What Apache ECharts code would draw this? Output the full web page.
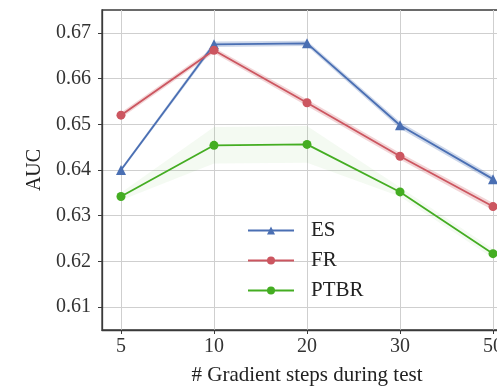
<!DOCTYPE html>
<html>
<head>
<meta charset="utf-8">
<script src="https://cdn.jsdelivr.net/npm/echarts@6/dist/echarts.min.js"></script>
<style>
  html, body { margin: 0; padding: 0; background: #fff; }
  #chart { width: 497px; height: 387px; }
</style>
</head>
<body>
<div id="chart"></div>
<script>
// Number of gradient steps at test time (evenly spaced positions on the x axis)
const steps = ['5', '10', '20', '30', '50'];
const yTicks = [0.61, 0.62, 0.63, 0.64, 0.65, 0.66, 0.67];

// Mean AUC per method
const esAuc   = [0.6400, 0.6675, 0.6677, 0.6498, 0.6380];
const frAuc   = [0.6520, 0.6662, 0.6547, 0.6430, 0.6320];
const ptbrAuc = [0.6342, 0.6454, 0.6456, 0.6352, 0.6217];

// Half-width of the shaded spread around each mean
const esSpread   = [0.0004, 0.0006, 0.0006, 0.0007, 0.0007];
const frSpread   = [0.0006, 0.0006, 0.0007, 0.0007, 0.0008];
const ptbrSpread = [0.0008, 0.0040, 0.0040, 0.0010, 0.0010];

const FONT = 'Liberation Serif';
const methods = [
  { name: 'ES',   mean: esAuc,   spread: esSpread,   color: '#4a6fb3', band: 'rgba(74,111,179,0.28)', symbol: 'triangle', size: 10 },
  { name: 'FR',   mean: frAuc,   spread: frSpread,   color: '#cc5660', band: 'rgba(204,86,96,0.25)',  symbol: 'circle',   size: 9 },
  { name: 'PTBR', mean: ptbrAuc, spread: ptbrSpread, color: '#44ad22', band: 'rgba(68,173,34,0.06)',  symbol: 'circle',   size: 9 }
];

const series = [];
// Shaded spread: one polygon per method, built from the lower and upper edges
methods.forEach(m => {
  const rows = m.mean.map((v, i) => [i, v - m.spread[i], v + m.spread[i]]);
  series.push({
    name: m.name + ' spread', type: 'custom', silent: true, z: 1,
    data: rows,
    encode: { x: 0, y: [1, 2] },
    renderItem: (params, api) => {
      if (params.dataIndex !== 0) return null;
      const upper = rows.map(r => api.coord([r[0], r[2]]));
      const lower = rows.map(r => api.coord([r[0], r[1]])).reverse();
      return {
        type: 'polygon',
        shape: { points: upper.concat(lower) },
        style: { fill: m.band },
        silent: true
      };
    }
  });
});
methods.forEach(m => {
  series.push({
    name: m.name, type: 'line',
    symbol: m.symbol, symbolSize: m.size,
    lineStyle: { color: m.color, width: 1.8 },
    itemStyle: { color: m.color },
    data: m.mean.map((v, i) => [i, v]), z: 5
  });
});

const chart = echarts.init(document.getElementById('chart'));
chart.setOption({
  animation: false,
  backgroundColor: '#fff',
  textStyle: { fontFamily: FONT },
  grid: {
    left: 102, top: 10, width: 410, height: 320,
    outerBoundsMode: 'none',
    show: true, borderColor: '#3a3a3a', borderWidth: 1.3, containLabel: false
  },
  legend: {
    data: ['ES', 'FR', 'PTBR'],
    orient: 'vertical', left: 242, top: 215,
    itemWidth: 46, itemHeight: 10, itemGap: 9,
    textStyle: { fontFamily: FONT, fontSize: 21, color: '#222', padding: [0, 0, 0, 12] }
  },
  xAxis: {
    type: 'value', min: -0.204, max: 4.204,
    name: '# Gradient steps during test', nameLocation: 'middle', nameGap: 35,
    nameTextStyle: { fontFamily: FONT, fontSize: 21, color: '#222' },
    axisLine: { show: true, onZero: false, lineStyle: { color: '#3a3a3a', width: 1.3 } },
    axisTick: { show: true, inside: false, length: 4, customValues: [0, 1, 2, 3, 4], lineStyle: { color: '#3a3a3a' } },
    axisLabel: { customValues: [0, 1, 2, 3, 4], formatter: v => steps[Math.round(v)], fontFamily: FONT, fontSize: 20, color: '#333', margin: 7, hideOverlap: false },
    splitLine: { show: true, lineStyle: { color: '#cfcfcf', width: 1 } }
  },
  yAxis: {
    type: 'value', min: 0.605, max: 0.675,
    name: 'AUC', nameLocation: 'middle', nameGap: 48, nameRotate: 90,
    nameTextStyle: { fontFamily: FONT, fontSize: 20, color: '#222' },
    axisLine: { show: true, onZero: false, lineStyle: { color: '#3a3a3a', width: 1.3 } },
    axisTick: { show: true, inside: false, length: 4, customValues: yTicks, lineStyle: { color: '#3a3a3a' } },
    axisLabel: { customValues: yTicks, formatter: v => v.toFixed(2), fontFamily: FONT, fontSize: 20, color: '#333', margin: 11 },
    splitLine: { show: true, lineStyle: { color: '#cfcfcf', width: 1 } }
  },
  series: series
});
</script>
</body>
</html>
